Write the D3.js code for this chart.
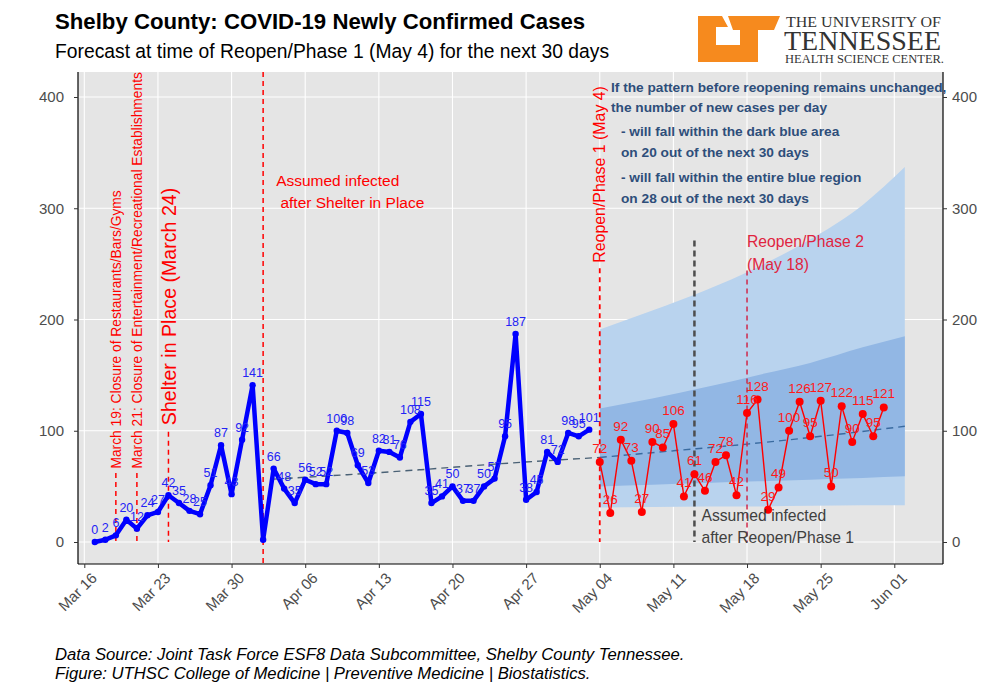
<!DOCTYPE html>
<html><head><meta charset="utf-8">
<script src="https://cdn.jsdelivr.net/npm/d3@7"></script>
<style>
body{margin:0;background:#fff;}
svg{display:block;font-family:"Liberation Sans",Arial,Helvetica,sans-serif;}
</style></head>
<body>
<svg id="chart" width="1000" height="700"></svg>
<script>
// ---------------- DATA ----------------
const blueStart = "2020-03-17";
const blueValues = [0,2,6,20,12,24,27,42,35,28,25,51,87,43,92,141,
  2,66,48,35,56,52,52,100,98,69,53,82,81,76,108,115,35,41,50,37,37,50,57,95,187,38,45,81,72,98,95,101];
const blueHiddenLabels = ["2020-04-02"];
const redStart = "2020-05-04";
const redValues = [72,26,92,73,27,90,85,106,41,61,46,72,78,42,116,128,29,49,100,126,95,127,50,122,90,115,95,121];

const bandDates   = ["2020-05-04","2020-05-09","2020-05-14","2020-05-19","2020-05-24","2020-05-29","2020-06-02"];
const outerUpper  = [191,208,226,247,272,303,337];
const innerUpper  = [120,129,139,150,161,175,185];
const innerLower  = [50,51.5,53,54.5,56,57.5,59];
const outerLower  = [31,31.5,32,32,32.5,33,33];

const trendDates    = ["2020-04-03","2020-04-10","2020-04-17","2020-04-24","2020-05-04"];
const trendValues   = [56.5,60.5,65,70,76];
const forecastDates = ["2020-05-04","2020-05-11","2020-05-18","2020-05-25","2020-06-02"];
const forecastValues= [76,82,88,95,104];

const xTickDates = ["2020-03-16","2020-03-23","2020-03-30","2020-04-06","2020-04-13","2020-04-20","2020-04-27","2020-05-04","2020-05-11","2020-05-18","2020-05-25","2020-06-01"];
const yTicks = [0,100,200,300,400];

// event lines: date, top value, style
const events = [
  {date:"2020-03-19", top:62,  color:"#ff0000", w:1.5, dash:"5,4"},
  {date:"2020-03-21", top:62,  color:"#ff0000", w:1.5, dash:"5,4"},
  {date:"2020-03-24", top:99,  color:"#ff0000", w:1.5, dash:"5,4"},
  {date:"2020-04-02", top:null,color:"#ff0000", w:1.5, dash:"5,4"},
  {date:"2020-05-04", top:246, color:"#ff0000", w:1.8, dash:"5,4"},
  {date:"2020-05-13", top:271, color:"#4d4d4d", w:2.5, dash:"6,4"},
  {date:"2020-05-18", top:244, color:"#d0284a", w:1.5, dash:"5,4"}
];

// ---------------- SETUP ----------------
const parse = d3.utcParse("%Y-%m-%d");
const dayMs = 86400000;
const svg = d3.select("#chart");
const panel = {left:78, right:943, top:72, bottom:564};

const x = d3.scaleUtc().domain([parse("2020-03-16"), parse("2020-06-01")]).range([84.3, 894.3]);
const y = d3.scaleLinear().domain([0,400]).range([542, 97]);

const blue = blueValues.map((v,i)=>({d:new Date(+parse(blueStart)+i*dayMs), v}));
const red  = redValues.map((v,i)=>({d:new Date(+parse(redStart)+i*dayMs), v}));
const band = bandDates.map((d,i)=>({d:parse(d), ou:outerUpper[i], iu:innerUpper[i], il:innerLower[i], ol:outerLower[i]}));

// panel background
svg.append("rect").attr("x",panel.left).attr("y",panel.top)
  .attr("width",panel.right-panel.left).attr("height",panel.bottom-panel.top).attr("fill","#e5e5e5");

// grid
const grid = svg.append("g");
yTicks.forEach(t=>grid.append("line").attr("x1",panel.left).attr("x2",panel.right)
  .attr("y1",y(t)).attr("y2",y(t)).attr("stroke","#fff").attr("stroke-width",1.1));
xTickDates.forEach(t=>grid.append("line").attr("y1",panel.top).attr("y2",panel.bottom)
  .attr("x1",x(parse(t))).attr("x2",x(parse(t))).attr("stroke","#fff").attr("stroke-width",1.1));

// historical trend line (under bands)
const lineGen = d3.line().x(d=>x(d.d)).y(d=>y(d.v)).curve(d3.curveMonotoneX);
svg.append("path").datum(trendDates.map((d,i)=>({d:parse(d),v:trendValues[i]})))
  .attr("d",lineGen).attr("fill","none").attr("stroke","#4a6175").attr("stroke-width",1.4).attr("stroke-dasharray","7,5");

// bands
svg.append("path").datum(band).attr("fill","#b9d3ee")
  .attr("d", d3.area().x(d=>x(d.d)).y0(d=>y(d.ol)).y1(d=>y(d.ou)).curve(d3.curveMonotoneX));
svg.append("path").datum(band).attr("fill","#92b7e4")
  .attr("d", d3.area().x(d=>x(d.d)).y0(d=>y(d.il)).y1(d=>y(d.iu)).curve(d3.curveMonotoneX));

// forecast median
svg.append("path").datum(forecastDates.map((d,i)=>({d:parse(d),v:forecastValues[i]})))
  .attr("d",lineGen).attr("fill","none").attr("stroke","#3a6ba0").attr("stroke-width",1.4).attr("stroke-dasharray","7,5");

// event lines
events.forEach(e=>{
  svg.append("line").attr("x1",x(parse(e.date))).attr("x2",x(parse(e.date)))
    .attr("y1", e.top===null ? panel.top : y(e.top)).attr("y2", e.top===null ? panel.bottom : y(0))
    .attr("stroke",e.color).attr("stroke-width",e.w).attr("stroke-dasharray",e.dash);
});

// blue series
svg.append("path").datum(blue).attr("d",d3.line().x(d=>x(d.d)).y(d=>y(d.v)))
  .attr("fill","none").attr("stroke","#0000ff").attr("stroke-width",4.5).attr("stroke-linejoin","round");
svg.append("g").selectAll("circle").data(blue).join("circle")
  .attr("cx",d=>x(d.d)).attr("cy",d=>y(d.v)).attr("r",3.2).attr("fill","#0000ff");
svg.append("g").selectAll("text").data(blue.filter(d=>!blueHiddenLabels.includes(d3.utcFormat("%Y-%m-%d")(d.d)))).join("text")
  .attr("x",d=>x(d.d)).attr("y",d=>y(d.v)-8).attr("text-anchor","middle")
  .attr("font-size",12.5).attr("fill","#2323f5").text(d=>d.v);

// red series
svg.append("path").datum(red).attr("d",d3.line().x(d=>x(d.d)).y(d=>y(d.v)))
  .attr("fill","none").attr("stroke","#ff0000").attr("stroke-width",1.4);
svg.append("g").selectAll("circle").data(red).join("circle")
  .attr("cx",d=>x(d.d)).attr("cy",d=>y(d.v)).attr("r",4).attr("fill","#ff0000");
svg.append("g").selectAll("text").data(red).join("text")
  .attr("x",d=>x(d.d)).attr("y",d=>y(d.v)-9).attr("text-anchor","middle")
  .attr("font-size",13.5).attr("fill","#ff1a1a").text(d=>d.v);

// ---------------- AXES ----------------
const axisCol = "#333";
svg.append("line").attr("x1",panel.left).attr("x2",panel.right).attr("y1",panel.bottom).attr("y2",panel.bottom).attr("stroke","#000").attr("stroke-width",1.2);
svg.append("line").attr("x1",panel.left).attr("x2",panel.left).attr("y1",panel.top).attr("y2",panel.bottom).attr("stroke","#000").attr("stroke-width",1.2);
svg.append("line").attr("x1",panel.right).attr("x2",panel.right).attr("y1",panel.top).attr("y2",panel.bottom).attr("stroke","#000").attr("stroke-width",1.2);

const xa = svg.append("g").attr("transform",`translate(0,${panel.bottom})`)
  .call(d3.axisBottom(x).tickValues(xTickDates.map(parse)).tickFormat(d3.utcFormat("%b %d")).tickSize(4).tickSizeOuter(0));
xa.select(".domain").remove();
xa.selectAll(".tick line").attr("stroke",axisCol);
xa.selectAll(".tick text").attr("font-size",15).attr("fill","#4d4d4d").attr("font-family","Liberation Sans, Arial, sans-serif")
  .attr("text-anchor","end").attr("dy",null).attr("y",null)
  .attr("transform","translate(13,15) rotate(-45)");

const yl = svg.append("g").attr("transform",`translate(${panel.left},0)`)
  .call(d3.axisLeft(y).tickValues(yTicks).tickSize(4).tickSizeOuter(0));
yl.select(".domain").remove();
yl.selectAll(".tick line").attr("stroke",axisCol);
yl.selectAll(".tick text").attr("font-size",15).attr("fill","#4d4d4d").attr("x",-14).attr("font-family","Liberation Sans, Arial, sans-serif");

const yr = svg.append("g").attr("transform",`translate(${panel.right},0)`)
  .call(d3.axisRight(y).tickValues(yTicks).tickSize(4).tickSizeOuter(0));
yr.select(".domain").remove();
yr.selectAll(".tick line").attr("stroke",axisCol);
yr.selectAll(".tick text").attr("font-size",15).attr("fill","#4d4d4d").attr("x",9).attr("font-family","Liberation Sans, Arial, sans-serif");

// ---------------- ANNOTATIONS ----------------
function vtext(date, baseVal, dx, txt, size, color){
  const xx = x(parse(date))+dx, yy = y(baseVal);
  svg.append("text").attr("transform",`translate(${xx},${yy}) rotate(-90)`)
    .attr("font-size",size).attr("fill",color).text(txt);
}
vtext("2020-03-19", 66, 5, "March 19: Closure of Restaurants/Bars/Gyms", 13.8, "#ff0000");
vtext("2020-03-21", 66, 5, "March 21: Closure of Entertainment/Recreational Establishments", 13.8, "#ff0000");
vtext("2020-03-24", 105, 7.5, "Shelter in Place (March 24)", 19.6, "#ff0000");
vtext("2020-05-04", 251, 5.5, "Reopen/Phase 1 (May 4)", 15.9, "#ff0000");

function htext(xx, yy, lines, size, color, gap, weight){
  const t = svg.append("text").attr("font-size",size).attr("fill",color).attr("font-weight",weight||"normal");
  lines.forEach((l,i)=>t.append("tspan").attr("x",xx).attr("y",yy+i*gap).attr("xml:space","preserve").text(l));
}
htext(x(parse("2020-04-02"))+13, 186, ["Assumed infected"," after Shelter in Place"], 15.5, "#ff0000", 22);
htext(x(parse("2020-05-13"))+7, 521, ["Assumed infected","after Reopen/Phase 1"], 15.7, "#404040", 22);
htext(x(parse("2020-05-18")), 247, ["Reopen/Phase 2","(May 18)"], 15.7, "#e0243f", 23);

const noteCol = "#2e4e7a";
htext(611, 92, ["If the pattern before reopening remains unchanged,","the number of new cases per day"], 13.7, noteCol, 20, "bold");
htext(621, 136, ["- will fall within the dark blue area","on 20 out of the next 30 days"], 13.7, noteCol, 21, "bold");
htext(621, 182, ["- will fall within the entire blue region","on 28 out of the next 30 days"], 13.7, noteCol, 21, "bold");

// titles
svg.append("text").attr("x",55).attr("y",29).attr("font-size",22.2).attr("font-weight","bold").attr("fill","#000")
  .text("Shelby County: COVID-19 Newly Confirmed Cases");
svg.append("text").attr("x",55).attr("y",58).attr("font-size",19.3).attr("fill","#000")
  .text("Forecast at time of Reopen/Phase 1 (May 4) for the next 30 days");
svg.append("text").attr("x",55).attr("y",660).attr("font-size",16.7).attr("font-style","italic").attr("fill","#000")
  .text("Data Source: Joint Task Force ESF8 Data Subcommittee, Shelby County Tennessee.");
svg.append("text").attr("x",55).attr("y",679).attr("font-size",16.7).attr("font-style","italic").attr("fill","#000")
  .text("Figure: UTHSC College of Medicine | Preventive Medicine | Biostatistics.");

// ---------------- LOGO ----------------
const logo = svg.append("g");
const orange = "#f68a1e";
logo.append("path").attr("fill",orange).attr("d",
  "M698,16 L722,16 L728,27 L716,27 L716,45 L740,45 L740,30 L733,30 L728,16 L780,16 L774,30 L758,30 L758,62 L698,62 Z");
const serif = "Liberation Serif, DejaVu Serif, serif";
logo.append("text").attr("x",786).attr("y",26.5).attr("font-family",serif).attr("font-size",14.5).attr("fill","#333")
  .attr("textLength",155).attr("lengthAdjust","spacingAndGlyphs").text("THE UNIVERSITY OF");
logo.append("text").attr("x",784).attr("y",49.5).attr("font-family",serif).attr("font-size",27).attr("fill","#333")
  .attr("textLength",157).attr("lengthAdjust","spacingAndGlyphs").text("TENNESSEE");
logo.append("text").attr("x",785).attr("y",63).attr("font-family",serif).attr("font-size",12).attr("fill","#333")
  .attr("textLength",159).attr("lengthAdjust","spacingAndGlyphs").text("HEALTH SCIENCE CENTER.");
</script>
</body></html>
